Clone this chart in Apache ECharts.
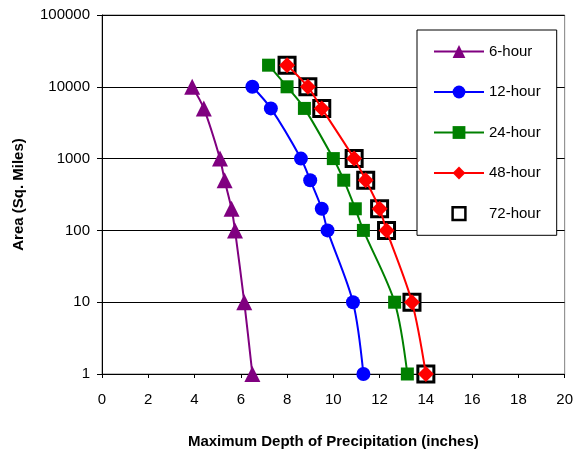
<!DOCTYPE html>
<html>
<head>
<meta charset="utf-8">
<script src="https://cdn.jsdelivr.net/npm/echarts@6/dist/echarts.min.js"></script>
<style>html,body{margin:0;padding:0;background:#fff}#c{width:576px;height:454px}</style>
</head>
<body>
<div id="c"></div>
<script>
const seriesNames = ['6-hour', '12-hour', '24-hour', '48-hour', '72-hour'];
const areas6 = [10000, 5000, 1000, 500, 200, 100, 10, 1];
const depth6 = [3.9, 4.4, 5.1, 5.3, 5.6, 5.75, 6.15, 6.5];
const areas12 = [10000, 5000, 1000, 500, 200, 100, 10, 1];
const depth12 = [6.5, 7.3, 8.6, 9.0, 9.5, 9.75, 10.85, 11.3];
const areas24 = [20000, 10000, 5000, 1000, 500, 200, 100, 10, 1];
const depth24 = [7.2, 8.0, 8.75, 10.0, 10.45, 10.95, 11.3, 12.65, 13.2];
const areas48 = [20000, 10000, 5000, 1000, 500, 200, 100, 10, 1];
const depth48 = [8.0, 8.9, 9.5, 10.9, 11.4, 12.0, 12.3, 13.4, 14.0];
const areas72 = [20000, 10000, 5000, 1000, 500, 200, 100, 10, 1];
const depth72 = [8.0, 8.9, 9.5, 10.9, 11.4, 12.0, 12.3, 13.4, 14.0];
const xTicks = [0, 2, 4, 6, 8, 10, 12, 14, 16, 18, 20];
const yTicks = [1, 10, 100, 1000, 10000, 100000];

function pairs(xs, ys) { return xs.map((x, i) => [x, ys[i]]); }
const FONT = 'Liberation Sans, Arial, sans-serif';

function lineSeries(name, xs, ys, color, symbol, size) {
  return {
    name: name, type: 'line', data: pairs(xs, ys),
    symbol: symbol, symbolSize: size, showAllSymbol: true,
    smooth: 0.3, z: 3,
    lineStyle: { color: color, width: 2 },
    itemStyle: { color: color, borderWidth: 0 }
  };
}

const chart = echarts.init(document.getElementById('c'), null, { renderer: 'canvas' });
chart.setOption({
  animation: false,
  backgroundColor: '#fff',
  grid: { left: 102, right: 9, top: 15, bottom: 80, show: true, borderColor: '#808080', borderWidth: 1, backgroundColor: 'transparent' },
  xAxis: {
    type: 'value', min: xTicks[0], max: xTicks[xTicks.length - 1], interval: 2,
    name: 'Maximum Depth of Precipitation (inches)', nameLocation: 'middle', nameGap: 60,
    nameTextStyle: { fontFamily: FONT, fontSize: 15, fontWeight: 'bold', color: '#000' },
    axisLine: { show: true, lineStyle: { color: '#000', width: 1 } },
    axisTick: { show: true, inside: false, length: 4, lineStyle: { color: '#000' } },
    axisLabel: { fontFamily: FONT, fontSize: 15, color: '#000', margin: 18 },
    splitLine: { show: false }
  },
  yAxis: {
    type: 'log', logBase: 10, min: yTicks[0], max: yTicks[yTicks.length - 1],
    name: 'Area (Sq. Miles)', nameLocation: 'middle', nameGap: 76, nameRotate: 90,
    nameTextStyle: { fontFamily: FONT, fontSize: 15, fontWeight: 'bold', color: '#000' },
    axisLine: { show: true, lineStyle: { color: '#000', width: 1 } },
    axisTick: { show: true, inside: false, length: 5, lineStyle: { color: '#000' } },
    axisLabel: { fontFamily: FONT, fontSize: 15, color: '#000', margin: 12, formatter: v => String(Math.round(v)) },
    splitLine: { show: true, lineStyle: { color: '#000', width: 1 } },
    minorTick: { show: false }
  },
  legend: {
    orient: 'vertical', left: 417, top: 30,
    width: 141,
    padding: [14, 16, 14, 16],
    borderColor: '#000', borderWidth: 1, backgroundColor: '#fff',
    itemWidth: 50, itemHeight: 16, itemGap: 25.5,
    textStyle: { fontFamily: FONT, fontSize: 15, color: '#000' },
    data: [
      { name: seriesNames[0] }, { name: seriesNames[1] }, { name: seriesNames[2] }, { name: seriesNames[3] },
      { name: seriesNames[4], itemStyle: { borderWidth: 2.5 } }
    ]
  },
  series: [
    lineSeries(seriesNames[0], depth6, areas6, '#800080', 'triangle', 16),
    lineSeries(seriesNames[1], depth12, areas12, '#0000FF', 'circle', 14),
    lineSeries(seriesNames[2], depth24, areas24, '#008000', 'rect', 13),
    lineSeries(seriesNames[3], depth48, areas48, '#FF0000', 'diamond', 16),
    {
      name: seriesNames[4], type: 'line', data: pairs(depth72, areas72),
      symbol: 'rect', symbolSize: 16, showAllSymbol: true, z: 2,
      lineStyle: { opacity: 0, width: 0, color: '#000' },
      itemStyle: { color: 'rgba(255,255,255,0)', borderColor: '#000', borderWidth: 3 }
    }
  ]
});
</script>
</body>
</html>
